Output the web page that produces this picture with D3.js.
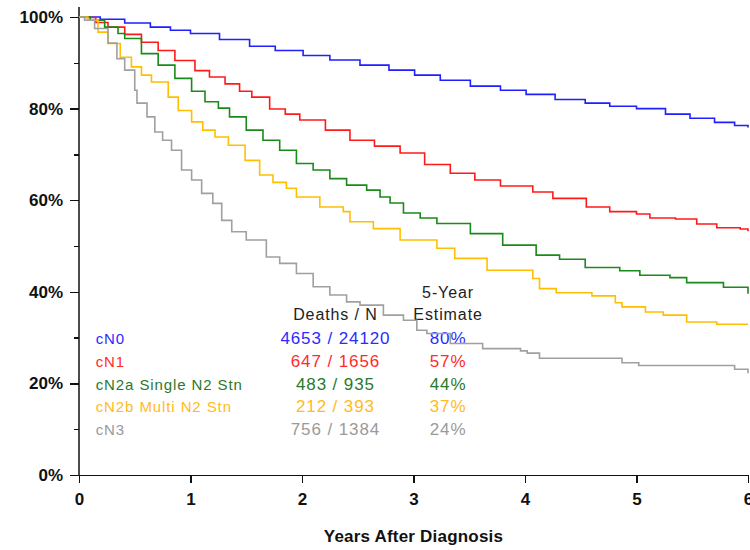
<!DOCTYPE html>
<html lang="en">
<head>
<meta charset="UTF-8"/>
<title>Survival by clinical N stage</title>
<script src="https://d3js.org/d3.v7.min.js"></script>
<style>
    body { margin: 0; background: #fff; }
    text { font-family: "Liberation Sans", Arial, sans-serif; }
    .axis path, .axis line { stroke: #111; stroke-width: 1.5px; shape-rendering: crispEdges; }
    .axis text { font-size: 17px; font-weight: bold; fill: #111; }
    path.km { fill: none; stroke-width: 1.6px; }
    .legend text { font-size: 15px; letter-spacing: 0.9px; }
</style>
</head>
<body>
<div id="chart"></div>
<script>
// survival curves: [years, percent surviving]
var cn0 = [[0,100],[0.19,99.5],[0.41,98.7],[0.64,97.8],[0.82,97.1],[1.0,96.4],[1.26,95.1],[1.53,93.6],
    [1.76,92.7],[2.01,91.6],[2.25,90.6],[2.52,89.5],[2.78,88.4],[3.01,87.3],[3.24,86.2],[3.51,84.9],
    [3.78,84.0],[4.01,83.1],[4.27,82.0],[4.54,81.2],[4.76,80.5],[5.0,80.0],[5.26,78.8],[5.48,77.9],
    [5.70,77.0],[5.88,76.3],[6.0,75.9]];
var cn1 = [[0,100],[0.05,99.9],[0.15,98.8],[0.26,97.8],[0.41,96.2],[0.56,94.5],[0.71,92.7],[0.86,90.5],
    [1.04,88.3],[1.17,86.9],[1.31,85.4],[1.44,83.8],[1.55,82.5],[1.71,79.9],[1.85,78.8],[1.98,77.5],
    [2.21,75.3],[2.43,73.1],[2.65,71.8],[2.88,70.3],[3.1,67.8],[3.33,65.9],[3.55,64.4],[3.78,63.1],
    [4.07,61.8],[4.25,60.4],[4.55,58.5],[4.76,57.5],[5.0,57.0],[5.12,56.1],[5.35,55.9],[5.54,54.8],
    [5.72,54.0],[5.93,53.7],[6.0,53.2]];
var cn2a = [[0,100],[0.1,99.3],[0.23,97.8],[0.35,96.4],[0.41,95.3],[0.56,92.0],[0.71,89.5],[0.86,86.6],
    [1.01,83.8],[1.13,81.5],[1.25,80.1],[1.35,78.2],[1.50,75.3],[1.65,73.1],[1.80,70.9],[1.95,68.0],
    [2.10,66.6],[2.25,64.7],[2.40,63.3],[2.58,62.2],[2.70,60.7],[2.79,59.4],[2.91,57.2],[3.06,56.1],
    [3.21,54.9],[3.51,52.7],[3.80,50.2],[4.10,48.0],[4.31,47.1],[4.54,45.3],[4.85,44.6],[5.03,43.6],
    [5.30,43.1],[5.45,42.0],[5.78,41.0],[6.0,39.6]];
var cn2b = [[0,100],[0.08,99.3],[0.17,96.7],[0.26,94.2],[0.37,91.2],[0.47,89.1],[0.56,87.3],[0.65,85.8],
    [0.80,82.5],[0.89,79.6],[1.01,77.1],[1.11,75.3],[1.22,73.8],[1.34,72.0],[1.49,68.7],[1.62,65.5],
    [1.74,63.9],[1.86,62.6],[1.95,60.7],[2.16,58.5],[2.37,57.5],[2.43,55.3],[2.64,53.8],[2.88,51.3],
    [3.21,49.5],[3.37,47.3],[3.66,44.7],[4.07,42.9],[4.13,40.7],[4.28,39.8],[4.60,39.1],[4.81,37.6],
    [4.87,36.7],[5.08,35.6],[5.24,34.9],[5.45,33.4],[5.72,32.9],[6.0,32.9]];
var cn3 = [[0,100],[0.05,99.3],[0.14,97.5],[0.26,94.3],[0.34,90.9],[0.41,88.4],[0.50,84.0],[0.52,81.2],
    [0.61,78.2],[0.68,74.9],[0.75,73.1],[0.83,70.9],[0.92,66.6],[1.01,64.4],[1.10,61.5],[1.20,59.3],
    [1.28,55.6],[1.37,53.1],[1.50,51.3],[1.68,47.6],[1.80,46.2],[1.95,44.0],[2.10,41.1],[2.25,39.3],
    [2.40,37.8],[2.52,37.1],[2.73,34.9],[2.91,33.8],[3.03,31.6],[3.12,30.9],[3.33,28.7],[3.62,27.6],
    [3.96,27.1],[4.02,26.6],[4.13,25.5],[4.87,24.5],[5.02,23.9],[5.88,23.1],[6.0,22.2]];

var groups = ["cN0", "cN1", "cN2a Single N2 Stn", "cN2b Multi N2 Stn", "cN3"];
var deathsN = ["4653 / 24120", "647 / 1656", "483 / 935", "212 / 393", "756 / 1384"];
var fiveYear = ["80%", "57%", "44%", "37%", "24%"];
var xTicks = [0, 1, 2, 3, 4, 5, 6];
var yTicks = [0, 20, 40, 60, 80, 100];
var yMinor = [10, 30, 50, 70, 90];

var series = [cn0, cn1, cn2a, cn2b, cn3];
var colors = ["#1f1fff", "#ff1a1a", "#1a8a1a", "#ffbf00", "#a0a0a0"];
var textColors = ["#2b2bff", "#ff2b2b", "#2a7a2a", "#ffbb22", "#9a9a9a"];

var margin = {top: 17, right: 2, bottom: 75, left: 79},
    width = 750 - margin.left - margin.right,
    height = 550 - margin.top - margin.bottom;

var svg = d3.select("#chart")
    .append("svg")
    .attr("width", width + margin.left + margin.right)
    .attr("height", height + margin.top + margin.bottom)
    .append("g")
    .attr("transform", "translate(" + margin.left + "," + margin.top + ")");

var x = d3.scaleLinear().domain([0, 6]).range([0, width]);
var y = d3.scaleLinear().domain([0, 100]).range([height, 0]);

// axes
svg.append("g")
    .attr("class", "axis")
    .call(d3.axisLeft(y).tickValues(yMinor).tickSize(5).tickFormat(""))
    .select(".domain").remove();

var yAxis = svg.append("g")
    .attr("class", "axis")
    .call(d3.axisLeft(y).tickValues(yTicks).tickSize(9).tickPadding(7)
        .tickFormat(function (d) { return d + "%"; }));
yAxis.select(".domain").remove();

svg.append("line")
    .attr("x1", x(0)).attr("x2", x(0))
    .attr("y1", y(0)).attr("y2", y(100) - 10)
    .attr("stroke", "#111").attr("stroke-width", 1.5);

svg.append("g")
    .attr("class", "axis")
    .attr("transform", "translate(0," + height + ")")
    .call(d3.axisBottom(x).tickValues(xTicks).tickSize(8).tickPadding(10).tickSizeOuter(0)
        .tickFormat(d3.format("d")));

svg.append("text")
    .attr("x", x(3))
    .attr("y", height + 67)
    .attr("text-anchor", "middle")
    .style("font-size", "17px")
    .style("font-weight", "bold")
    .style("letter-spacing", "0.2px")
    .style("fill", "#111")
    .text("Years After Diagnosis");

// legend table
var legend = svg.append("g").attr("class", "legend");
var rowY = function (i) { return y(28.5) + i * 22.6; };
var colN = x(2.3), colEst = x(3.31);

legend.append("text").attr("x", colN).attr("y", rowY(0) - 24)
    .attr("text-anchor", "middle").style("fill", "#222").style("font-size", "16px")
    .text("Deaths / N");
legend.append("text").attr("x", colEst).attr("y", rowY(0) - 46)
    .attr("text-anchor", "middle").style("fill", "#222").style("font-size", "16px")
    .text("5-Year");
legend.append("text").attr("x", colEst).attr("y", rowY(0) - 24)
    .attr("text-anchor", "middle").style("fill", "#222").style("font-size", "16px")
    .text("Estimate");

groups.forEach(function (g, i) {
    legend.append("text").attr("x", x(0.15)).attr("y", rowY(i))
        .style("fill", textColors[i]).text(g);
    legend.append("text").attr("x", colN).attr("y", rowY(i))
        .attr("text-anchor", "middle").style("fill", textColors[i]).style("font-size", "17px")
        .text(deathsN[i]);
    legend.append("text").attr("x", colEst).attr("y", rowY(i))
        .attr("text-anchor", "middle").style("fill", textColors[i]).style("font-size", "17px")
        .text(fiveYear[i]);
});

// Kaplan-Meier step lines
var line = d3.line()
    .x(function (d) { return x(d[0]); })
    .y(function (d) { return y(d[1]); })
    .curve(d3.curveStepAfter);

series.forEach(function (s, i) {
    svg.append("path")
        .datum(s)
        .attr("class", "km")
        .attr("stroke", colors[i])
        .attr("d", line);
});
</script>
</body>
</html>
